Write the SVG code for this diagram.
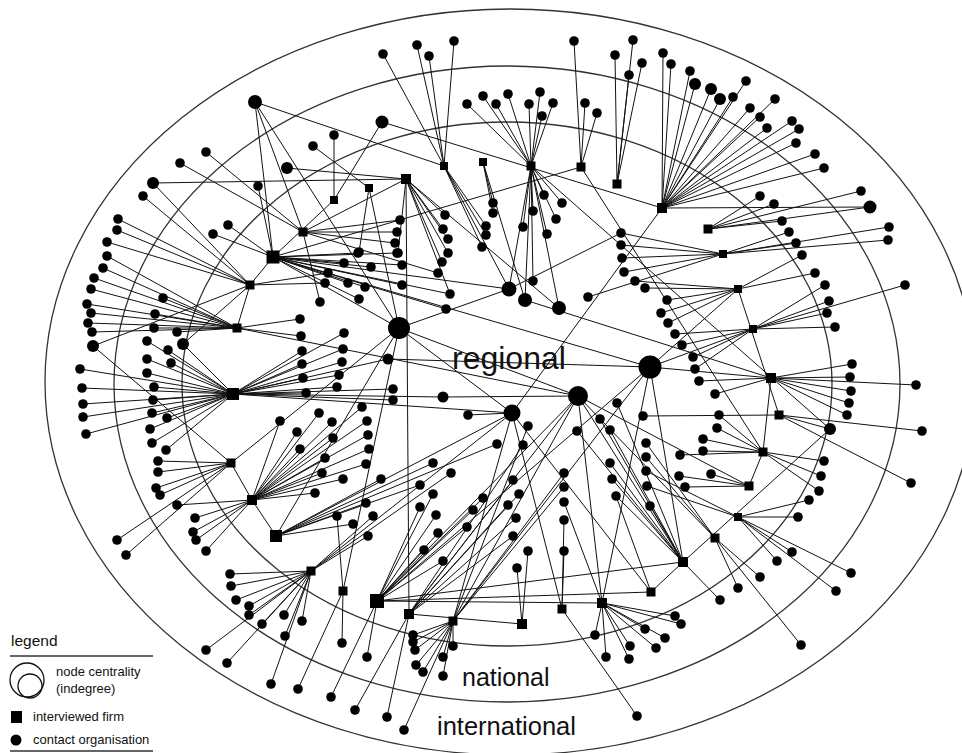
<svg xmlns="http://www.w3.org/2000/svg" width="962" height="753" viewBox="0 0 962 753">
<style>
.e{fill:none;stroke:#333;stroke-width:1.3}
.c path{fill:none;stroke:#111;stroke-width:1}
.n{fill:#000}
.t{font-family:"Liberation Sans",Arial,sans-serif;fill:#111}
</style>
<rect width="962" height="753" fill="#fff"/>
<g id="rings">
<ellipse class="e" cx="510" cy="382" rx="465" ry="373"/>
<ellipse class="e" cx="507" cy="384" rx="393" ry="318"/>
<ellipse class="e" cx="507" cy="384" rx="325" ry="262"/>
</g>
<g id="connectors" class="c">
<path d="M273 257L213 234M273 257L228 225M273 257L258 186M273 257L344 263M273 257L348 283M273 257L365 287M273 257L359 299M273 257L371 267M273 257L358 253M273 257L397 253M273 257L402 265M273 257L402 285M273 257L446 309M273 257L450 294M273 257L509 289M273 257L399 328M273 257L250 285M273 257L650 367"/>
<path d="M303 232L206 152M303 232L180 163M303 232L400 220M303 232L397 232M303 232L395 243M303 232L438 273M303 232L320 302M303 232L406 179"/>
<path d="M250 285L153 183M250 285L143 196M250 285L118 219M250 285L117 230M250 285L107 242M250 285L93 346M250 285L183 344M250 285L325 283M250 285L328 273M250 285L237 328"/>
<path d="M237 328L107 256M237 328L103 268M237 328L94 278M237 328L91 289M237 328L87 304M237 328L91 313M237 328L88 323M237 328L92 332M237 328L163 298M237 328L155 314M237 328L154 328M237 328L177 332M237 328L300 319M237 328L301 336"/>
<path d="M233 394L147 341M233 394L168 350M233 394L171 363M233 394L147 359M233 394L147 373M233 394L154 387M233 394L153 400M233 394L152 413M233 394L167 418M233 394L150 429M233 394L152 443M233 394L166 450M233 394L80 369M233 394L82 388M233 394L83 404M233 394L83 417M233 394L86 434M233 394L183 344M233 394L302 351M233 394L302 364M233 394L303 378M233 394L306 393M233 394L344 333M233 394L343 349M233 394L342 362M233 394L339 375M233 394L337 387M233 394L393 389M233 394L393 400M233 394L443 397"/>
<path d="M231 463L158 461M231 463L158 472M231 463L156 488M231 463L160 495M231 463L117 540M231 463L126 555M231 463L93 346M231 463L252 500M231 463L399 328"/>
<path d="M252 500L177 505M252 500L195 518M252 500L193 532M252 500L196 540M252 500L206 551M252 500L297 432M252 500L319 413M252 500L300 449M252 500L325 458M252 500L322 473M252 500L315 493M252 500L332 422M252 500L333 438M252 500L362 407M252 500L367 421M252 500L368 435M252 500L369 449M252 500L366 464M252 500L343 479M252 500L280 421M252 500L276 536"/>
<path d="M276 536L381 479M276 536L366 503M276 536L420 485M276 536L433 463M276 536L353 524M276 536L399 328M276 536L512 413M276 536L497 444"/>
<path d="M311 571L230 574M311 571L231 586M311 571L236 600M311 571L249 606M311 571L249 615M311 571L262 624M311 571L284 615M311 571L302 621M311 571L285 636M311 571L206 650M311 571L227 663M311 571L271 684M311 571L373 516M311 571L368 536M311 571L451 473M311 571L512 413"/>
<path d="M343 591L298 689M343 591L342 643M343 591L337 516M343 591L399 328"/>
<path d="M377 601L331 697M377 601L367 657M377 601L420 507M377 601L436 515M377 601L438 533M377 601L424 550M377 601L443 561M377 601L473 510M377 601L483 498M377 601L467 527M377 601L433 494M377 601L651 592M377 601L683 562M377 601L602 603M377 601L650 367M377 601L578 396"/>
<path d="M409 614L355 710M409 614L387 717M409 614L508 505M409 614L519 494M409 614L516 518M409 614L513 536M409 614L513 480M409 614L523 445M409 614L522 624M409 614L578 396"/>
<path d="M453 621L404 730M453 621L413 635M453 621L413 642M453 621L415 650M453 621L416 665M453 621L423 672M453 621L443 657M453 621L453 646M453 621L443 676M453 621L564 473M453 621L564 487M453 621L528 426M453 621L650 367M453 621L578 396M453 621L512 413"/>
<path d="M522 624L517 568M522 624L528 551M562 609L564 551M562 609L564 520M562 609L637 716M562 609L512 413"/>
<path d="M602 603L595 635M602 603L606 657M602 603L630 646M602 603L629 659M602 603L645 629M602 603L665 638M602 603L656 648M602 603L675 616M602 603L681 624M602 603L564 502M602 603L578 396M602 603L650 367"/>
<path d="M651 592L616 496M651 592L512 413M651 592L683 562"/>
<path d="M683 562L577 431M683 562L600 419M683 562L610 430M683 562L610 463M683 562L612 479M683 562L616 496M683 562L617 403M683 562L720 600M683 562L650 506M683 562L578 396M683 562L650 367M683 562L830 429"/>
<path d="M715 538L738 588M715 538L760 577M715 538L801 645M715 538L578 396M715 538L646 443M715 538L646 457"/>
<path d="M738 517L798 517M738 517L809 500M738 517L792 552M738 517L777 561M738 517L851 573M738 517L836 591M738 517L646 471M738 517L647 486"/>
<path d="M749 486L763 452M749 486L679 476M749 486L685 487M749 486L711 474M749 486L578 396"/>
<path d="M763 452L824 461M763 452L821 476M763 452L819 491M763 452L703 439M763 452L703 451M763 452L680 455M763 452L717 428M763 452L719 415M763 452L771 378"/>
<path d="M779 415L922 431M779 415L911 483M779 415L643 416M779 415L830 429"/>
<path d="M771 378L852 364M771 378L850 377M771 378L851 391M771 378L849 403M771 378L847 415M771 378L916 385M771 378L650 367M771 378L715 394M771 378L699 381M771 378L525 300"/>
<path d="M753 329L825 285M753 329L829 301M753 329L827 313M753 329L835 327M753 329L905 285M753 329L693 357M753 329L695 369M753 329L682 345M753 329L675 334M753 329L650 367"/>
<path d="M738 289L802 255M738 289L815 273M738 289L661 313M738 289L668 323M738 289L667 300M738 289L645 288M738 289L635 281M738 289L650 367M738 289L779 415"/>
<path d="M723 254L789 232M723 254L796 243M723 254L889 227M723 254L888 240M723 254L621 233M723 254L621 245M723 254L622 258M723 254L624 272M723 254L588 297"/>
<path d="M708 229L760 196M708 229L774 204M708 229L782 221M708 229L861 191M708 229L870 207"/>
<path d="M662 208L663 53M662 208L671 64M662 208L690 71M662 208L695 84M662 208L711 89M662 208L720 99M662 208L733 97M662 208L746 81M662 208L750 108M662 208L760 117M662 208L775 99M662 208L767 128M662 208L792 121M662 208L799 129M662 208L796 143M662 208L815 154M662 208L824 168M662 208L870 207M662 208L512 413"/>
<path d="M617 184L615 55M617 184L633 40M617 184L642 63M617 184L629 75M581 167L574 41M581 167L585 103M581 167L597 113M581 167L273 257M581 167L763 452M621 233L509 289"/>
<path d="M531 166L467 104M531 166L483 96M531 166L496 104M531 166L508 94M531 166L529 104M531 166L540 92M531 166L553 103M531 166L542 116M531 166L544 195M531 166L562 203M531 166L533 211M531 166L556 219M531 166L523 227M531 166L547 234M531 166L509 289M531 166L525 300M531 166L559 308M531 166L533 281M531 166L830 429"/>
<path d="M483 162L493 203M483 162L493 213M483 162L525 300"/>
<path d="M444 166L383 54M444 166L417 45M444 166L429 56M444 166L454 41M444 166L486 226M444 166L486 235M444 166L482 247M444 166L509 289"/>
<path d="M406 179L445 215M406 179L443 229M406 179L448 239M406 179L448 253M406 179L442 262M406 179L398 253M406 179L153 183M406 179L287 168M406 179L450 294M406 179L409 614M406 179L559 308"/>
<path d="M369 188L313 146M369 188L359 252M369 188L399 328M334 200L382 122M334 200L334 135M334 200L273 257"/>
<path d="M255 102L273 257M255 102L303 232M255 102L444 166M255 102L399 328M382 122L662 208M388 359L650 367M388 359L233 394M578 396L237 328M578 396L399 328M512 413L233 394M512 413L468 415M512 413L399 328M399 328L509 289M443 397L578 396"/>
</g>
<g id="firms" class="n">
<g id="f1"><rect x="266.5" y="250.5" width="13" height="13"/></g>
<g id="f2"><rect x="298.5" y="227.5" width="9" height="9"/></g>
<g id="f3"><rect x="245.5" y="280.5" width="9" height="9"/></g>
<g id="f4"><rect x="232.5" y="323.5" width="9" height="9"/></g>
<g id="f5"><rect x="227" y="388" width="12" height="12"/></g>
<g id="f6"><rect x="226.5" y="458.5" width="9" height="9"/></g>
<g id="f7"><rect x="247" y="495" width="10" height="10"/></g>
<g id="f8"><rect x="270" y="530" width="12" height="12"/></g>
<g id="f9"><rect x="306.5" y="566.5" width="9" height="9"/></g>
<g id="f10"><rect x="338.5" y="586.5" width="9" height="9"/></g>
<g id="f11"><rect x="370" y="594" width="14" height="14"/></g>
<g id="f12"><rect x="404" y="609" width="10" height="10"/></g>
<g id="f13"><rect x="448.5" y="616.5" width="9" height="9"/></g>
<g id="f14"><rect x="517" y="619" width="10" height="10"/></g>
<g id="f15"><rect x="557.5" y="604.5" width="9" height="9"/></g>
<g id="f16"><rect x="597" y="598" width="10" height="10"/></g>
<g id="f17"><rect x="646.5" y="587.5" width="9" height="9"/></g>
<g id="f18"><rect x="678" y="557" width="10" height="10"/></g>
<g id="f19"><rect x="710.5" y="533.5" width="9" height="9"/></g>
<g id="f20"><rect x="734" y="513" width="8" height="8"/></g>
<g id="f21"><rect x="744.5" y="481.5" width="9" height="9"/></g>
<g id="f22"><rect x="758.5" y="447.5" width="9" height="9"/></g>
<g id="f23"><rect x="774.5" y="410.5" width="9" height="9"/></g>
<g id="f24"><rect x="766" y="373" width="10" height="10"/></g>
<g id="f25"><rect x="749" y="325" width="8" height="8"/></g>
<g id="f26"><rect x="734" y="285" width="8" height="8"/></g>
<g id="f27"><rect x="719" y="250" width="8" height="8"/></g>
<g id="f28"><rect x="703.5" y="224.5" width="9" height="9"/></g>
<g id="f29"><rect x="657" y="203" width="10" height="10"/></g>
<g id="f30"><rect x="612.5" y="179.5" width="9" height="9"/></g>
<g id="f31"><rect x="576.5" y="162.5" width="9" height="9"/></g>
<g id="f32"><rect x="526.5" y="161.5" width="9" height="9"/></g>
<g id="f33"><rect x="479" y="158" width="8" height="8"/></g>
<g id="f34"><rect x="440" y="162" width="8" height="8"/></g>
<g id="f35"><rect x="401" y="174" width="10" height="10"/></g>
<g id="f36"><rect x="365" y="184" width="8" height="8"/></g>
<g id="f37"><rect x="330" y="196" width="8" height="8"/></g>
</g>
<g id="hubs" class="n">
<g id="h1"><circle cx="399" cy="328" r="11"/></g>
<g id="h2"><circle cx="650" cy="367" r="11.5"/></g>
<g id="h3"><circle cx="578" cy="396" r="10"/></g>
<g id="h4"><circle cx="512" cy="413" r="8.5"/></g>
<g id="h5"><circle cx="509" cy="289" r="7.5"/></g>
<g id="h6"><circle cx="525" cy="300" r="7"/></g>
<g id="h7"><circle cx="559" cy="308" r="7"/></g>
<g id="h8"><circle cx="255" cy="102" r="7"/></g>
<g id="h9"><circle cx="382" cy="122" r="6.5"/></g>
<g id="h10"><circle cx="870" cy="207" r="6.5"/></g>
<g id="h11"><circle cx="830" cy="429" r="6"/></g>
<g id="h12"><circle cx="443" cy="397" r="5.5"/></g>
<g id="h13"><circle cx="388" cy="359" r="5.5"/></g>
<g id="h14"><circle cx="153" cy="183" r="6"/></g>
<g id="h15"><circle cx="287" cy="168" r="6"/></g>
<g id="h16"><circle cx="93" cy="346" r="6"/></g>
<g id="h17"><circle cx="183" cy="344" r="6"/></g>
<g id="h18"><circle cx="695" cy="84" r="6"/></g>
<g id="h19"><circle cx="711" cy="89" r="6"/></g>
<g id="h20"><circle cx="720" cy="99" r="6"/></g>
</g>
<g id="contacts" class="n">
<g id="o1"><circle cx="313" cy="146" r="4.8"/></g><g id="o2"><circle cx="206" cy="152" r="4.8"/></g><g id="o3"><circle cx="180" cy="163" r="4.8"/></g><g id="o4"><circle cx="143" cy="196" r="4.8"/></g><g id="o5"><circle cx="118" cy="219" r="4.8"/></g><g id="o6"><circle cx="117" cy="230" r="4.8"/></g><g id="o7"><circle cx="107" cy="242" r="4.8"/></g><g id="o8"><circle cx="107" cy="256" r="4.8"/></g><g id="o9"><circle cx="258" cy="186" r="4.8"/></g><g id="o10"><circle cx="228" cy="225" r="4.8"/></g><g id="o11"><circle cx="213" cy="234" r="4.8"/></g>
<g id="o12"><circle cx="103" cy="268" r="4.8"/></g><g id="o13"><circle cx="94" cy="278" r="4.8"/></g><g id="o14"><circle cx="91" cy="289" r="4.8"/></g><g id="o15"><circle cx="87" cy="304" r="4.8"/></g><g id="o16"><circle cx="91" cy="313" r="4.8"/></g><g id="o17"><circle cx="88" cy="323" r="4.8"/></g><g id="o18"><circle cx="92" cy="332" r="4.8"/></g><g id="o19"><circle cx="163" cy="298" r="4.8"/></g><g id="o20"><circle cx="155" cy="314" r="4.8"/></g><g id="o21"><circle cx="154" cy="328" r="4.8"/></g><g id="o22"><circle cx="177" cy="332" r="4.8"/></g>
<g id="o23"><circle cx="147" cy="341" r="4.8"/></g><g id="o24"><circle cx="168" cy="350" r="4.8"/></g><g id="o25"><circle cx="171" cy="363" r="4.8"/></g><g id="o26"><circle cx="147" cy="359" r="4.8"/></g><g id="o27"><circle cx="147" cy="373" r="4.8"/></g><g id="o28"><circle cx="154" cy="387" r="4.8"/></g><g id="o29"><circle cx="153" cy="400" r="4.8"/></g><g id="o30"><circle cx="152" cy="413" r="4.8"/></g><g id="o31"><circle cx="167" cy="418" r="4.8"/></g><g id="o32"><circle cx="150" cy="429" r="4.8"/></g><g id="o33"><circle cx="152" cy="443" r="4.8"/></g><g id="o34"><circle cx="166" cy="450" r="4.8"/></g><g id="o35"><circle cx="158" cy="461" r="4.8"/></g><g id="o36"><circle cx="158" cy="472" r="4.8"/></g><g id="o37"><circle cx="156" cy="488" r="4.8"/></g><g id="o38"><circle cx="160" cy="495" r="4.8"/></g><g id="o39"><circle cx="177" cy="505" r="4.8"/></g>
<g id="o40"><circle cx="80" cy="369" r="4.8"/></g><g id="o41"><circle cx="82" cy="388" r="4.8"/></g><g id="o42"><circle cx="83" cy="404" r="4.8"/></g><g id="o43"><circle cx="83" cy="417" r="4.8"/></g><g id="o44"><circle cx="86" cy="434" r="4.8"/></g>
<g id="o45"><circle cx="300" cy="319" r="4.8"/></g><g id="o46"><circle cx="301" cy="336" r="4.8"/></g><g id="o47"><circle cx="302" cy="351" r="4.8"/></g><g id="o48"><circle cx="302" cy="364" r="4.8"/></g><g id="o49"><circle cx="303" cy="378" r="4.8"/></g><g id="o50"><circle cx="306" cy="393" r="4.8"/></g><g id="o51"><circle cx="320" cy="302" r="4.8"/></g><g id="o52"><circle cx="325" cy="283" r="4.8"/></g><g id="o53"><circle cx="328" cy="273" r="4.8"/></g><g id="o54"><circle cx="280" cy="421" r="4.8"/></g><g id="o55"><circle cx="297" cy="432" r="4.8"/></g><g id="o56"><circle cx="319" cy="413" r="4.8"/></g><g id="o57"><circle cx="300" cy="449" r="4.8"/></g><g id="o58"><circle cx="325" cy="458" r="4.8"/></g><g id="o59"><circle cx="322" cy="473" r="4.8"/></g><g id="o60"><circle cx="315" cy="493" r="4.8"/></g>
<g id="o61"><circle cx="344" cy="263" r="4.8"/></g><g id="o62"><circle cx="348" cy="283" r="4.8"/></g><g id="o63"><circle cx="365" cy="287" r="4.8"/></g><g id="o64"><circle cx="359" cy="299" r="4.8"/></g><g id="o65"><circle cx="371" cy="267" r="4.8"/></g><g id="o66"><circle cx="358" cy="253" r="4.8"/></g><g id="o67"><circle cx="397" cy="253" r="4.8"/></g><g id="o68"><circle cx="402" cy="265" r="4.8"/></g><g id="o69"><circle cx="402" cy="285" r="4.8"/></g>
<g id="o70"><circle cx="344" cy="333" r="4.8"/></g><g id="o71"><circle cx="343" cy="349" r="4.8"/></g><g id="o72"><circle cx="342" cy="362" r="4.8"/></g><g id="o73"><circle cx="339" cy="375" r="4.8"/></g><g id="o74"><circle cx="337" cy="387" r="4.8"/></g><g id="o75"><circle cx="362" cy="407" r="4.8"/></g><g id="o76"><circle cx="367" cy="421" r="4.8"/></g><g id="o77"><circle cx="332" cy="422" r="4.8"/></g><g id="o78"><circle cx="368" cy="435" r="4.8"/></g><g id="o79"><circle cx="333" cy="438" r="4.8"/></g><g id="o80"><circle cx="369" cy="449" r="4.8"/></g><g id="o81"><circle cx="366" cy="464" r="4.8"/></g><g id="o82"><circle cx="343" cy="479" r="4.8"/></g><g id="o83"><circle cx="381" cy="479" r="4.8"/></g><g id="o84"><circle cx="366" cy="503" r="4.8"/></g><g id="o85"><circle cx="393" cy="389" r="4.8"/></g><g id="o86"><circle cx="393" cy="400" r="4.8"/></g>
<g id="o87"><circle cx="446" cy="309" r="4.8"/></g><g id="o88"><circle cx="450" cy="294" r="4.8"/></g><g id="o89"><circle cx="438" cy="273" r="4.8"/></g><g id="o90"><circle cx="448" cy="253" r="4.8"/></g><g id="o293"><circle cx="442" cy="262" r="4.8"/></g>
<g id="o91"><circle cx="117" cy="540" r="4.8"/></g><g id="o92"><circle cx="126" cy="555" r="4.8"/></g><g id="o93"><circle cx="195" cy="518" r="4.8"/></g><g id="o94"><circle cx="193" cy="532" r="4.8"/></g><g id="o95"><circle cx="196" cy="540" r="4.8"/></g><g id="o96"><circle cx="206" cy="551" r="4.8"/></g><g id="o97"><circle cx="230" cy="574" r="4.8"/></g><g id="o98"><circle cx="231" cy="586" r="4.8"/></g><g id="o99"><circle cx="236" cy="600" r="4.8"/></g><g id="o100"><circle cx="249" cy="606" r="4.8"/></g><g id="o101"><circle cx="249" cy="615" r="4.8"/></g><g id="o102"><circle cx="262" cy="624" r="4.8"/></g><g id="o103"><circle cx="284" cy="615" r="4.8"/></g><g id="o104"><circle cx="302" cy="621" r="4.8"/></g><g id="o105"><circle cx="285" cy="636" r="4.8"/></g><g id="o106"><circle cx="206" cy="650" r="4.8"/></g><g id="o107"><circle cx="227" cy="663" r="4.8"/></g><g id="o108"><circle cx="271" cy="684" r="4.8"/></g><g id="o109"><circle cx="298" cy="689" r="4.8"/></g><g id="o110"><circle cx="331" cy="697" r="4.8"/></g>
<g id="o111"><circle cx="337" cy="516" r="4.8"/></g><g id="o112"><circle cx="353" cy="524" r="4.8"/></g><g id="o113"><circle cx="373" cy="516" r="4.8"/></g><g id="o114"><circle cx="368" cy="536" r="4.8"/></g><g id="o115"><circle cx="420" cy="507" r="4.8"/></g><g id="o116"><circle cx="436" cy="515" r="4.8"/></g><g id="o117"><circle cx="438" cy="533" r="4.8"/></g><g id="o118"><circle cx="424" cy="550" r="4.8"/></g><g id="o119"><circle cx="443" cy="561" r="4.8"/></g><g id="o120"><circle cx="473" cy="510" r="4.8"/></g><g id="o121"><circle cx="483" cy="498" r="4.8"/></g><g id="o122"><circle cx="467" cy="527" r="4.8"/></g><g id="o123"><circle cx="433" cy="463" r="4.8"/></g><g id="o124"><circle cx="451" cy="473" r="4.8"/></g><g id="o125"><circle cx="420" cy="485" r="4.8"/></g><g id="o126"><circle cx="433" cy="494" r="4.8"/></g>
<g id="o127"><circle cx="508" cy="505" r="4.8"/></g><g id="o128"><circle cx="519" cy="494" r="4.8"/></g><g id="o129"><circle cx="513" cy="480" r="4.8"/></g><g id="o130"><circle cx="516" cy="518" r="4.8"/></g><g id="o131"><circle cx="513" cy="536" r="4.8"/></g><g id="o132"><circle cx="528" cy="551" r="4.8"/></g><g id="o133"><circle cx="517" cy="568" r="4.8"/></g><g id="o134"><circle cx="564" cy="473" r="4.8"/></g><g id="o135"><circle cx="564" cy="487" r="4.8"/></g><g id="o136"><circle cx="564" cy="502" r="4.8"/></g><g id="o137"><circle cx="564" cy="520" r="4.8"/></g><g id="o138"><circle cx="564" cy="551" r="4.8"/></g>
<g id="o139"><circle cx="342" cy="643" r="4.8"/></g><g id="o140"><circle cx="367" cy="657" r="4.8"/></g><g id="o141"><circle cx="355" cy="710" r="4.8"/></g><g id="o142"><circle cx="387" cy="717" r="4.8"/></g><g id="o143"><circle cx="404" cy="730" r="4.8"/></g><g id="o144"><circle cx="413" cy="635" r="4.8"/></g><g id="o145"><circle cx="413" cy="642" r="4.8"/></g><g id="o146"><circle cx="415" cy="650" r="4.8"/></g><g id="o147"><circle cx="416" cy="665" r="4.8"/></g><g id="o148"><circle cx="423" cy="672" r="4.8"/></g><g id="o149"><circle cx="443" cy="657" r="4.8"/></g><g id="o150"><circle cx="453" cy="646" r="4.8"/></g><g id="o151"><circle cx="443" cy="676" r="4.8"/></g>
<g id="o152"><circle cx="616" cy="496" r="4.8"/></g><g id="o153"><circle cx="610" cy="463" r="4.8"/></g><g id="o154"><circle cx="612" cy="479" r="4.8"/></g><g id="o155"><circle cx="617" cy="403" r="4.8"/></g><g id="o156"><circle cx="600" cy="419" r="4.8"/></g><g id="o157"><circle cx="610" cy="430" r="4.8"/></g><g id="o158"><circle cx="577" cy="431" r="4.8"/></g><g id="o159"><circle cx="528" cy="426" r="4.8"/></g><g id="o160"><circle cx="523" cy="445" r="4.8"/></g><g id="o161"><circle cx="497" cy="444" r="4.8"/></g><g id="o162"><circle cx="468" cy="415" r="4.8"/></g>
<g id="o163"><circle cx="595" cy="635" r="4.8"/></g><g id="o164"><circle cx="606" cy="657" r="4.8"/></g><g id="o165"><circle cx="630" cy="646" r="4.8"/></g><g id="o166"><circle cx="629" cy="659" r="4.8"/></g><g id="o167"><circle cx="645" cy="629" r="4.8"/></g><g id="o168"><circle cx="665" cy="638" r="4.8"/></g><g id="o169"><circle cx="656" cy="648" r="4.8"/></g><g id="o170"><circle cx="675" cy="616" r="4.8"/></g><g id="o171"><circle cx="681" cy="624" r="4.8"/></g><g id="o172"><circle cx="637" cy="716" r="4.8"/></g><g id="o173"><circle cx="650" cy="506" r="4.8"/></g><g id="o174"><circle cx="720" cy="600" r="4.8"/></g><g id="o175"><circle cx="738" cy="588" r="4.8"/></g><g id="o176"><circle cx="760" cy="577" r="4.8"/></g><g id="o177"><circle cx="801" cy="645" r="4.8"/></g><g id="o178"><circle cx="798" cy="517" r="4.8"/></g><g id="o179"><circle cx="809" cy="500" r="4.8"/></g><g id="o180"><circle cx="792" cy="552" r="4.8"/></g><g id="o181"><circle cx="777" cy="561" r="4.8"/></g><g id="o182"><circle cx="851" cy="573" r="4.8"/></g><g id="o183"><circle cx="836" cy="591" r="4.8"/></g>
<g id="o184"><circle cx="643" cy="416" r="4.8"/></g><g id="o185"><circle cx="646" cy="443" r="4.8"/></g><g id="o186"><circle cx="646" cy="457" r="4.8"/></g><g id="o187"><circle cx="646" cy="471" r="4.8"/></g><g id="o188"><circle cx="647" cy="486" r="4.8"/></g><g id="o189"><circle cx="679" cy="476" r="4.8"/></g><g id="o190"><circle cx="685" cy="487" r="4.8"/></g><g id="o191"><circle cx="711" cy="474" r="4.8"/></g><g id="o192"><circle cx="680" cy="455" r="4.8"/></g><g id="o193"><circle cx="703" cy="439" r="4.8"/></g><g id="o194"><circle cx="703" cy="451" r="4.8"/></g><g id="o195"><circle cx="717" cy="428" r="4.8"/></g><g id="o196"><circle cx="719" cy="415" r="4.8"/></g><g id="o197"><circle cx="824" cy="461" r="4.8"/></g><g id="o198"><circle cx="821" cy="476" r="4.8"/></g><g id="o199"><circle cx="819" cy="491" r="4.8"/></g><g id="o200"><circle cx="922" cy="431" r="4.8"/></g><g id="o201"><circle cx="911" cy="483" r="4.8"/></g>
<g id="o202"><circle cx="852" cy="364" r="4.8"/></g><g id="o203"><circle cx="850" cy="377" r="4.8"/></g><g id="o204"><circle cx="851" cy="391" r="4.8"/></g><g id="o205"><circle cx="849" cy="403" r="4.8"/></g><g id="o206"><circle cx="847" cy="415" r="4.8"/></g><g id="o207"><circle cx="916" cy="385" r="4.8"/></g><g id="o208"><circle cx="715" cy="394" r="4.8"/></g><g id="o209"><circle cx="699" cy="381" r="4.8"/></g><g id="o210"><circle cx="695" cy="369" r="4.8"/></g><g id="o211"><circle cx="693" cy="357" r="4.8"/></g><g id="o212"><circle cx="682" cy="345" r="4.8"/></g><g id="o213"><circle cx="675" cy="334" r="4.8"/></g><g id="o214"><circle cx="668" cy="323" r="4.8"/></g><g id="o215"><circle cx="661" cy="313" r="4.8"/></g><g id="o216"><circle cx="667" cy="300" r="4.8"/></g><g id="o217"><circle cx="645" cy="288" r="4.8"/></g><g id="o218"><circle cx="635" cy="281" r="4.8"/></g>
<g id="o219"><circle cx="825" cy="285" r="4.8"/></g><g id="o220"><circle cx="829" cy="301" r="4.8"/></g><g id="o221"><circle cx="827" cy="313" r="4.8"/></g><g id="o222"><circle cx="835" cy="327" r="4.8"/></g><g id="o223"><circle cx="905" cy="285" r="4.8"/></g><g id="o224"><circle cx="802" cy="255" r="4.8"/></g><g id="o225"><circle cx="815" cy="273" r="4.8"/></g><g id="o226"><circle cx="889" cy="227" r="4.8"/></g><g id="o227"><circle cx="888" cy="240" r="4.8"/></g><g id="o228"><circle cx="621" cy="233" r="4.8"/></g><g id="o229"><circle cx="621" cy="245" r="4.8"/></g><g id="o230"><circle cx="622" cy="258" r="4.8"/></g><g id="o231"><circle cx="624" cy="272" r="4.8"/></g><g id="o232"><circle cx="760" cy="196" r="4.8"/></g><g id="o233"><circle cx="774" cy="204" r="4.8"/></g><g id="o234"><circle cx="782" cy="221" r="4.8"/></g><g id="o235"><circle cx="789" cy="232" r="4.8"/></g><g id="o236"><circle cx="796" cy="243" r="4.8"/></g><g id="o237"><circle cx="861" cy="191" r="4.8"/></g>
<g id="o238"><circle cx="663" cy="53" r="4.8"/></g><g id="o239"><circle cx="671" cy="64" r="4.8"/></g><g id="o240"><circle cx="690" cy="71" r="4.8"/></g><g id="o241"><circle cx="733" cy="97" r="4.8"/></g><g id="o242"><circle cx="746" cy="81" r="4.8"/></g><g id="o243"><circle cx="750" cy="108" r="4.8"/></g><g id="o244"><circle cx="760" cy="117" r="4.8"/></g><g id="o245"><circle cx="775" cy="99" r="4.8"/></g><g id="o246"><circle cx="767" cy="128" r="4.8"/></g><g id="o247"><circle cx="792" cy="121" r="4.8"/></g><g id="o248"><circle cx="799" cy="129" r="4.8"/></g><g id="o249"><circle cx="796" cy="143" r="4.8"/></g><g id="o250"><circle cx="815" cy="154" r="4.8"/></g><g id="o251"><circle cx="824" cy="168" r="4.8"/></g>
<g id="o252"><circle cx="615" cy="55" r="4.8"/></g><g id="o253"><circle cx="633" cy="40" r="4.8"/></g><g id="o254"><circle cx="642" cy="63" r="4.8"/></g><g id="o255"><circle cx="629" cy="75" r="4.8"/></g><g id="o256"><circle cx="574" cy="41" r="4.8"/></g><g id="o257"><circle cx="585" cy="103" r="4.8"/></g><g id="o258"><circle cx="597" cy="113" r="4.8"/></g>
<g id="o259"><circle cx="467" cy="104" r="4.8"/></g><g id="o260"><circle cx="483" cy="96" r="4.8"/></g><g id="o261"><circle cx="496" cy="104" r="4.8"/></g><g id="o262"><circle cx="508" cy="94" r="4.8"/></g><g id="o263"><circle cx="529" cy="104" r="4.8"/></g><g id="o264"><circle cx="540" cy="92" r="4.8"/></g><g id="o265"><circle cx="553" cy="103" r="4.8"/></g><g id="o266"><circle cx="542" cy="116" r="4.8"/></g>
<g id="o267"><circle cx="544" cy="195" r="4.8"/></g><g id="o268"><circle cx="562" cy="203" r="4.8"/></g><g id="o269"><circle cx="533" cy="211" r="4.8"/></g><g id="o270"><circle cx="556" cy="219" r="4.8"/></g><g id="o271"><circle cx="523" cy="227" r="4.8"/></g><g id="o272"><circle cx="547" cy="234" r="4.8"/></g><g id="o273"><circle cx="493" cy="203" r="4.8"/></g><g id="o274"><circle cx="493" cy="213" r="4.8"/></g><g id="o275"><circle cx="486" cy="226" r="4.8"/></g><g id="o276"><circle cx="486" cy="235" r="4.8"/></g><g id="o277"><circle cx="482" cy="247" r="4.8"/></g>
<g id="o278"><circle cx="383" cy="54" r="4.8"/></g><g id="o279"><circle cx="417" cy="45" r="4.8"/></g><g id="o280"><circle cx="429" cy="56" r="4.8"/></g><g id="o281"><circle cx="454" cy="41" r="4.8"/></g><g id="o282"><circle cx="445" cy="215" r="4.8"/></g><g id="o283"><circle cx="443" cy="229" r="4.8"/></g><g id="o284"><circle cx="448" cy="239" r="4.8"/></g><g id="o285"><circle cx="400" cy="220" r="4.8"/></g><g id="o286"><circle cx="397" cy="232" r="4.8"/></g><g id="o287"><circle cx="395" cy="243" r="4.8"/></g><g id="o288"><circle cx="398" cy="253" r="4.8"/></g><g id="o289"><circle cx="359" cy="252" r="4.8"/></g><g id="o290"><circle cx="334" cy="135" r="4.8"/></g><g id="o291"><circle cx="533" cy="281" r="4.8"/></g><g id="o292"><circle cx="588" cy="297" r="4.8"/></g>
</g>
<g id="labels" class="t">
<text x="452" y="369" font-size="32">regional</text>
<text x="462" y="686" font-size="25">national</text>
<text x="437" y="735" font-size="25.5">international</text>
</g>
<g id="legend">
<text class="t" x="11" y="646" font-size="15.5">legend</text>
<line x1="10" y1="656" x2="153" y2="656" stroke="#333" stroke-width="1.3"/>
<circle cx="27" cy="680" r="17" fill="none" stroke="#111" stroke-width="1.3"/>
<circle cx="30" cy="686" r="12" fill="none" stroke="#111" stroke-width="1.3"/>
<text class="t" x="56" y="676" font-size="13">node centrality</text>
<text class="t" x="56" y="693" font-size="13">(indegree)</text>
<rect x="11" y="711" width="11" height="12" fill="#000"/>
<text class="t" x="33" y="721" font-size="13">interviewed firm</text>
<circle cx="16" cy="740" r="5.5" fill="#000"/>
<text class="t" x="33" y="744" font-size="13">contact organisation</text>
<line x1="10" y1="751" x2="153" y2="751" stroke="#333" stroke-width="1.3"/>
</g>
</svg>
